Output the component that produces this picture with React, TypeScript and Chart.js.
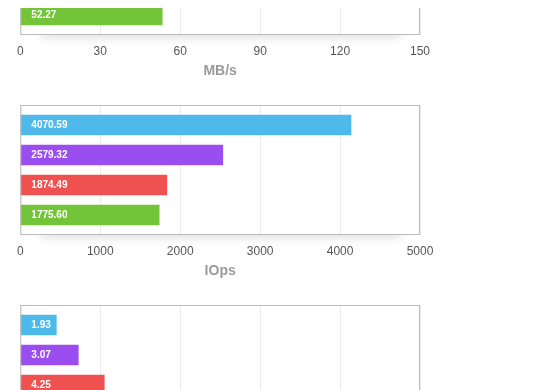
import React, { useEffect, useRef } from "react";
import { Chart, registerables } from "chart.js";

Chart.register(...registerables);

const FONT = "'Liberation Sans', Arial, Helvetica, sans-serif";

const barColors = ["#4EBAEC", "#9B4EEF", "#EF5050", "#74C43A"];

// Chart 1: throughput (only the last bar is visible in the reference)
const mbsBarValues = [121.0, 76.5, 54.5, 53.25];
const mbsLabels = ["119.83", "75.93", "55.18", "52.27"];
const mbsTicks = { max: 150, step: 30 };
const mbsTitle = "MB/s";

// Chart 2: IOps
const iopsBarValues = [4137, 2533, 1833, 1737];
const iopsLabels = ["4070.59", "2579.32", "1874.49", "1775.60"];
const iopsTicks = { max: 5000, step: 1000 };
const iopsTitle = "IOps";

// Chart 3: latency (partially visible)
const latBarValues = [1.8, 2.9, 4.2, 4.5];
const latLabels = ["1.93", "3.07", "4.25", "4.61"];
const latTicks = { max: 20, step: 4 };
const latTitle = "ms";

const boxPlugin = {
  id: "boxPlugin",
  beforeDraw(chart: any) {
    const { ctx, chartArea } = chart;
    const { left, right, bottom } = chartArea;
    ctx.save();
    ctx.beginPath();
    ctx.rect(0, bottom, chart.width, chart.height - bottom);
    ctx.clip();
    ctx.fillStyle = "#ffffff";
    ctx.shadowColor = "rgba(0,0,0,0.12)";
    ctx.shadowBlur = 10;
    ctx.shadowOffsetY = 3;
    ctx.fillRect(left + 20, bottom - 12, right - left - 40, 12);
    ctx.restore();
  },
  afterDatasetsDraw(chart: any) {
    const { ctx, chartArea } = chart;
    const { left, top, right, bottom } = chartArea;
    ctx.save();
    ctx.strokeStyle = "#bbbbbb";
    ctx.lineWidth = 1;
    ctx.strokeRect(left + 0.5, top + 0.5, right - left - 1, bottom - top - 1);
    const labels: string[] = chart.options.plugins.barLabels.labels;
    const meta = chart.getDatasetMeta(0);
    ctx.fillStyle = "#ffffff";
    ctx.font = `bold 10px ${FONT}`;
    ctx.textAlign = "left";
    ctx.textBaseline = "middle";
    meta.data.forEach((el: any, i: number) => {
      ctx.fillText(labels[i], left + 11, el.y + 0.5);
    });
    ctx.restore();
  },
};

function BarChart({
  values,
  labels,
  ticks,
  title,
}: {
  values: number[];
  labels: string[];
  ticks: { max: number; step: number };
  title: string;
}) {
  const ref = useRef<HTMLCanvasElement | null>(null);
  useEffect(() => {
    if (!ref.current) return;
    const chart = new Chart(ref.current, {
      type: "bar",
      data: {
        datasets: [
          {
            data: values.map((v, i) => ({ x: v, y: i })),
            backgroundColor: barColors,
            borderWidth: 0,
            barThickness: 20,
          },
        ],
      },
      options: {
        indexAxis: "y",
        responsive: false,
        animation: false,
        layout: { padding: { left: 12, right: 28, top: 20, bottom: 1 } },
        plugins: {
          legend: { display: false },
          tooltip: { enabled: false },
          barLabels: { labels },
        } as any,
        scales: {
          x: {
            type: "linear",
            min: 0,
            max: ticks.max,
            afterFit: (scale: any) => {
              scale.height = 49;
            },
            ticks: {
              stepSize: ticks.step,
              color: "#555555",
              font: { family: FONT, size: 12 },
              padding: 9,
              callback: (v: any) => String(v),
            },
            grid: { color: "#ebebeb", drawTicks: false },
            border: { display: false },
            title: {
              display: true,
              text: title,
              color: "#9a9a9a",
              font: { family: FONT, size: 14, weight: "bold" },
              padding: { top: 4, bottom: 4 },
            },
          },
          y: {
            type: "linear",
            reverse: true,
            offset: false,
            grace: 0,
            bounds: "data",
            min: -0.6667,
            max: 3.6667,
            display: false,
          },
        },
      } as any,
      plugins: [boxPlugin],
    });
    return () => chart.destroy();
  }, []);
  return <canvas ref={ref} width={440} height={200} style={{ display: "block" }} />;
}

export default function App() {
  return (
    <div style={{ marginTop: -123 }}>
      <BarChart values={mbsBarValues} labels={mbsLabels} ticks={mbsTicks} title={mbsTitle} />
      <BarChart values={iopsBarValues} labels={iopsLabels} ticks={iopsTicks} title={iopsTitle} />
      <BarChart values={latBarValues} labels={latLabels} ticks={latTicks} title={latTitle} />
    </div>
  );
}
